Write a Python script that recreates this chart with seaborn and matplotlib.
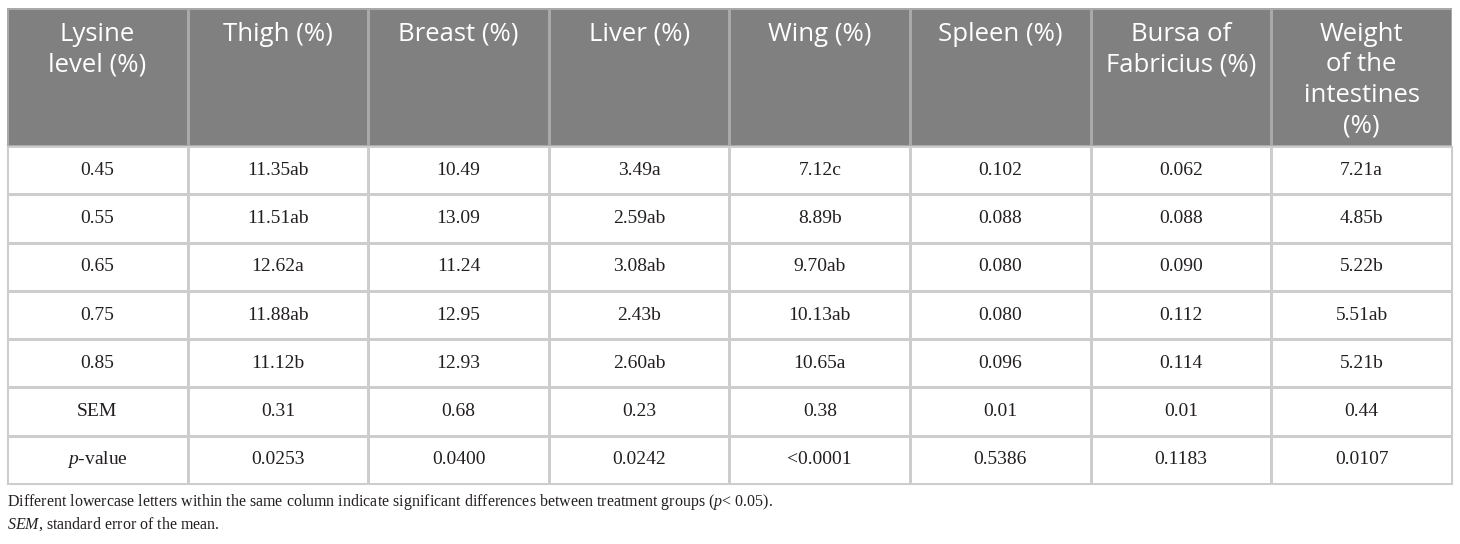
import numpy as np
import matplotlib
matplotlib.use('Agg')
import matplotlib.pyplot as plt
import seaborn as sns
from matplotlib.colors import ListedColormap

# Table content
headers = ['Lysine\nlevel (%)', 'Thigh (%)', 'Breast (%)', 'Liver (%)', 'Wing (%)',
           'Spleen (%)', 'Bursa of\nFabricius (%)', 'Weight\nof the\nintestines\n(%)']
lysine = ['0.45', '0.55', '0.65', '0.75', '0.85', 'SEM', '$p$-value']
thigh = ['11.35ab', '11.51ab', '12.62a', '11.88ab', '11.12b', '0.31', '0.0253']
breast = ['10.49', '13.09', '11.24', '12.95', '12.93', '0.68', '0.0400']
liver = ['3.49a', '2.59ab', '3.08ab', '2.43b', '2.60ab', '0.23', '0.0242']
wing = ['7.12c', '8.89b', '9.70ab', '10.13ab', '10.65a', '0.38', '<0.0001']
spleen = ['0.102', '0.088', '0.080', '0.080', '0.096', '0.01', '0.5386']
bursa = ['0.062', '0.088', '0.090', '0.112', '0.114', '0.01', '0.1183']
intestines = ['7.21a', '4.85b', '5.22b', '5.51ab', '5.21b', '0.44', '0.0107']

footnotes = ['Different lowercase letters within the same column indicate significant '
             'differences between treatment groups ($p$< 0.05).',
             '$SEM$, standard error of the mean.']

plt.rcParams['mathtext.fontset'] = 'custom'
plt.rcParams['mathtext.rm'] = 'Liberation Serif'
plt.rcParams['mathtext.it'] = 'Liberation Serif:italic'

labels = np.array([lysine, thigh, breast, liver, wing, spleen, bursa, intestines]).T
n_rows, n_cols = labels.shape

W, H = 1460, 544
fig = plt.figure(figsize=(W / 100, H / 100), dpi=100)
fig.patch.set_facecolor('white')

left, right = 7, 1452
top, head_bot, body_bot = 8, 146, 484
grid_col = '#cdcdcd'
text_col = '#231f20'

# header
hax = fig.add_axes([left / W, 1 - head_bot / H, (right - left) / W, (head_bot - top) / H])
sns.heatmap(np.zeros((1, n_cols)), cmap=ListedColormap(['#808080']), cbar=False,
            linewidths=0.8, linecolor='#a9a9a9', xticklabels=False, yticklabels=False, ax=hax)
for j, h in enumerate(headers):
    hax.text(j + 0.5, 0.10, h, ha='center', va='top', color='white',
             fontsize=18.5, family='Open Sans', linespacing=1.3)

# body
ax = fig.add_axes([left / W, 1 - body_bot / H, (right - left) / W, (body_bot - head_bot) / H])
sns.heatmap(np.zeros((n_rows, n_cols)), cmap=ListedColormap(['white']), cbar=False,
            annot=labels, fmt='', linewidths=0.8, linecolor=grid_col,
            annot_kws={'color': text_col, 'fontsize': 14, 'family': 'Liberation Serif'},
            xticklabels=False, yticklabels=False, ax=ax)
for s in ax.spines.values():
    s.set_visible(True)
    s.set_color(grid_col)
    s.set_linewidth(0.8)

fig.text(left / W, 1 - 502 / H, footnotes[0], ha='left', va='center',
         fontsize=11.5, family='Liberation Serif', color=text_col)
fig.text(left / W, 1 - 524 / H, footnotes[1], ha='left', va='center',
         fontsize=11.5, family='Liberation Serif', color=text_col)

fig.savefig('out.png', dpi=100)
